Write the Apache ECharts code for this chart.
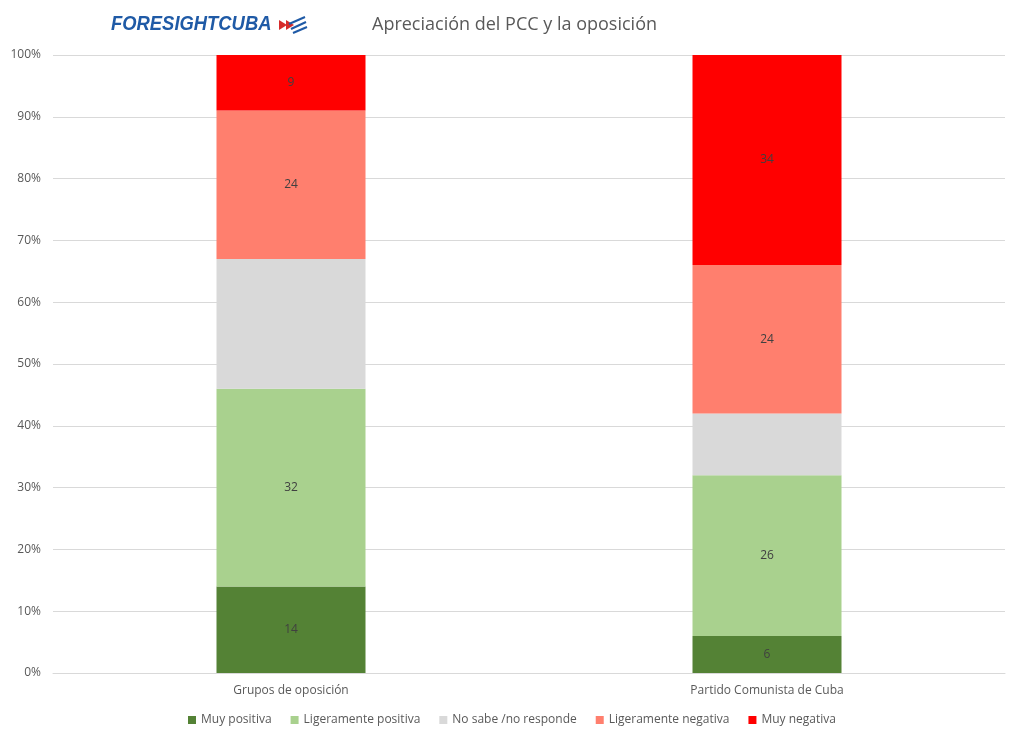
<!DOCTYPE html>
<html>
<head>
<meta charset="utf-8">
<script src="https://cdn.jsdelivr.net/npm/echarts@6/dist/echarts.min.js"></script>
<style>
  html, body { margin: 0; padding: 0; background: #fff; }
  #chart { width: 1024px; height: 742px; }
</style>
</head>
<body>
<div id="chart"></div>
<script>
// datos
var categorias = ['Grupos de oposición', 'Partido Comunista de Cuba'];
var muyPositiva = [14, 6];
var ligPositiva = [32, 26];
var noSabe = [21, 10];
var ligNegativa = [24, 24];
var muyNegativa = [9, 34];
var ticksY = [0, 10, 20, 30, 40, 50, 60, 70, 80, 90, 100];

var chart = echarts.init(document.getElementById('chart'));

function serie(nombre, datos, color, conEtiqueta) {
    return {
        name: nombre,
        type: 'bar',
        stack: 'total',
        barWidth: 149,
        data: datos,
        itemStyle: { color: color },
        label: {
            show: conEtiqueta,
            color: '#404040',
            fontSize: 12,
            fontFamily: 'Open Sans'
        }
    };
}

var option = {
    animation: false,
    textStyle: { fontFamily: 'Open Sans' },
    title: {
        text: 'Apreciación del PCC y la oposición',
        left: 367,
        top: 11,
        textStyle: { color: '#595959', fontSize: 18, fontWeight: 'normal', fontFamily: 'Open Sans' }
    },
    graphic: [
        {
            type: 'text', x: 111, y: 14, scaleX: 0.92,
            style: { text: 'FORESIGHTCUBA', fill: '#1f5aa6', font: 'italic bold 20px "Liberation Sans", sans-serif' }
        },
        { type: 'polygon', shape: { points: [[279, 20], [287, 25], [279, 30]] }, style: { fill: '#d62b2b' } },
        { type: 'polygon', shape: { points: [[286, 20], [294, 25], [286, 30]] }, style: { fill: '#d62b2b' } },
        { type: 'polyline', shape: { points: [[289, 24], [305, 17]] }, style: { stroke: '#1f5aa6', lineWidth: 2 } },
        { type: 'polyline', shape: { points: [[291, 29], [306, 22]] }, style: { stroke: '#1f5aa6', lineWidth: 2 } },
        { type: 'polyline', shape: { points: [[293, 33], [307, 27]] }, style: { stroke: '#1f5aa6', lineWidth: 2 } }
    ],
    legend: {
        bottom: 11,
        left: 'center',
        itemWidth: 8,
        itemHeight: 8,
        itemGap: 19,
        icon: 'rect',
        textStyle: { color: '#595959', fontSize: 12, fontFamily: 'Open Sans' },
        data: ['Muy positiva', 'Ligeramente positiva', 'No sabe /no responde', 'Ligeramente negativa', 'Muy negativa']
    },
    grid: { left: 53, right: 19, top: 55, bottom: 69 },
    xAxis: {
        type: 'category',
        data: categorias,
        axisLine: { lineStyle: { color: '#d9d9d9' } },
        axisTick: { show: false },
        axisLabel: { color: '#595959', fontSize: 12, margin: 12 }
    },
    yAxis: {
        type: 'value',
        min: ticksY[0],
        max: ticksY[ticksY.length - 1],
        interval: 10,
        axisLine: { show: false },
        axisTick: { show: false },
        splitLine: { lineStyle: { color: '#d9d9d9' } },
        axisLabel: { color: '#595959', fontSize: 12, margin: 12, formatter: '{value}%' }
    },
    series: [
        serie('Muy positiva', muyPositiva, '#548235', true),
        serie('Ligeramente positiva', ligPositiva, '#a9d18e', true),
        serie('No sabe /no responde', noSabe, '#d9d9d9', false),
        serie('Ligeramente negativa', ligNegativa, '#ff7f6e', true),
        serie('Muy negativa', muyNegativa, '#ff0000', true)
    ]
};

chart.setOption(option);
</script>
</body>
</html>
